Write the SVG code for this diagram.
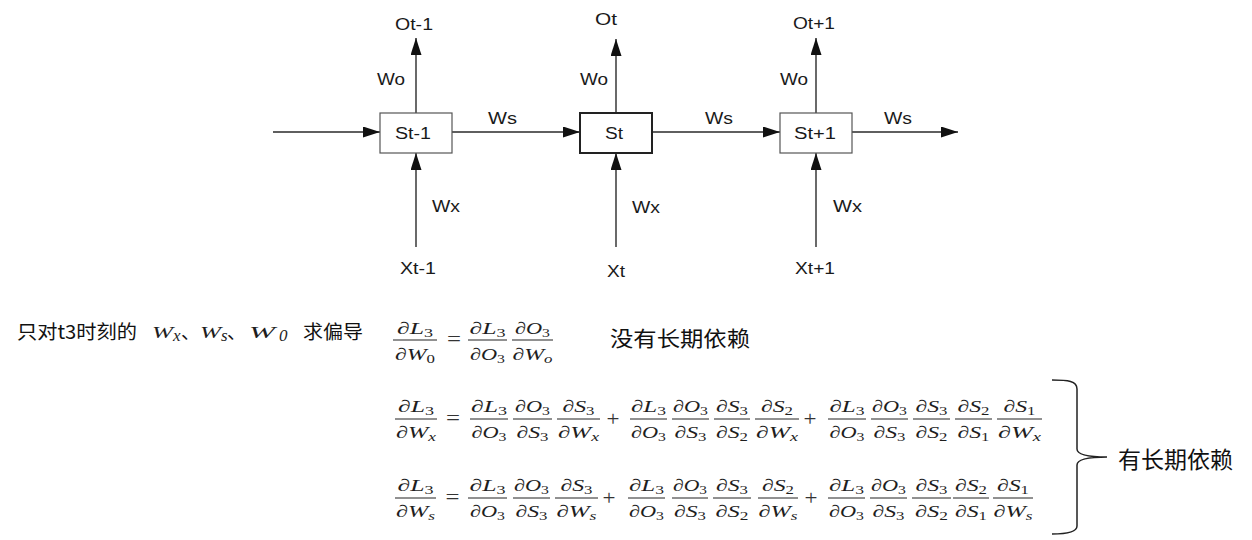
<svg xmlns="http://www.w3.org/2000/svg" width="1252" height="540" viewBox="0 0 1252 540">
<style>
.lbl{font-family:"Liberation Sans",Arial,sans-serif;font-size:16px;fill:#1a1a1a}
.box{fill:#fff;stroke:#555;stroke-width:1.2}
.box2{fill:#fff;stroke:#222;stroke-width:2}
.ln{fill:none;stroke:#2a2a2a;stroke-width:1.4}
.m{font-family:"Liberation Serif","DejaVu Serif",serif;font-style:italic;font-size:17px;fill:#1e1e1e;text-anchor:middle}
.u{font-style:normal}
.sb{font-size:12px}
.op{font-family:"Liberation Serif","DejaVu Serif",serif;font-size:21px;fill:#333;text-anchor:middle}
.bar{stroke:#222;stroke-width:1}
.cn{font-family:"Noto Sans CJK SC","Noto Sans",sans-serif;fill:#111}
.mi{font-family:"Liberation Serif","DejaVu Serif",serif;font-style:italic;font-size:17px;fill:#1e1e1e}
</style>
<defs>
<marker id="ah" viewBox="0 0 17 11" refX="17" refY="5.5" markerWidth="17" markerHeight="11" orient="auto" markerUnits="userSpaceOnUse">
<path d="M0,0 L17,5.5 L0,11 Z" fill="#111"/>
</marker>
</defs>
<rect width="1252" height="540" fill="#fff"/>

<g id="connectors">
<path class="ln" d="M273,132 H380" marker-end="url(#ah)"/>
<path class="ln" d="M452,132 H580" marker-end="url(#ah)"/>
<path class="ln" d="M652,132 H780" marker-end="url(#ah)"/>
<path class="ln" d="M852,132 H958" marker-end="url(#ah)"/>
<path class="ln" d="M416,113 V38" marker-end="url(#ah)"/>
<path class="ln" d="M616,113 V39" marker-end="url(#ah)"/>
<path class="ln" d="M816,113 V38" marker-end="url(#ah)"/>
<path class="ln" d="M416,247 V153" marker-end="url(#ah)"/>
<path class="ln" d="M616,247 V153" marker-end="url(#ah)"/>
<path class="ln" d="M816,247 V153" marker-end="url(#ah)"/>
<text class="lbl" x="377" y="85" textLength="28" lengthAdjust="spacingAndGlyphs">Wo</text>
<text class="lbl" x="580" y="85" textLength="28" lengthAdjust="spacingAndGlyphs">Wo</text>
<text class="lbl" x="780" y="85" textLength="28" lengthAdjust="spacingAndGlyphs">Wo</text>
<text class="lbl" x="488" y="124" textLength="29" lengthAdjust="spacingAndGlyphs">Ws</text>
<text class="lbl" x="705" y="124" textLength="28" lengthAdjust="spacingAndGlyphs">Ws</text>
<text class="lbl" x="884" y="124" textLength="28" lengthAdjust="spacingAndGlyphs">Ws</text>
<text class="lbl" x="432" y="212" textLength="28" lengthAdjust="spacingAndGlyphs">Wx</text>
<text class="lbl" x="632" y="213" textLength="28" lengthAdjust="spacingAndGlyphs">Wx</text>
<text class="lbl" x="833" y="212" textLength="29" lengthAdjust="spacingAndGlyphs">Wx</text>
</g>

<g id="node-st-1">
<rect class="box" x="380" y="113" width="72" height="40"/>
<text class="lbl" x="395" y="139" textLength="36" lengthAdjust="spacingAndGlyphs">St-1</text>
</g>
<g id="node-st">
<rect class="box2" x="580" y="113" width="72" height="40"/>
<text class="lbl" x="605" y="139" textLength="18" lengthAdjust="spacingAndGlyphs">St</text>
</g>
<g id="node-st+1">
<rect class="box" x="780" y="113" width="72" height="40"/>
<text class="lbl" x="794" y="139" textLength="42" lengthAdjust="spacingAndGlyphs">St+1</text>
</g>
<g id="node-ot-1"><text class="lbl" x="395" y="30" textLength="38" lengthAdjust="spacingAndGlyphs">Ot-1</text></g>
<g id="node-ot"><text class="lbl" x="595" y="25" textLength="22" lengthAdjust="spacingAndGlyphs">Ot</text></g>
<g id="node-ot+1"><text class="lbl" x="793" y="29" textLength="42" lengthAdjust="spacingAndGlyphs">Ot+1</text></g>
<g id="node-xt-1"><text class="lbl" x="400" y="274" textLength="36" lengthAdjust="spacingAndGlyphs">Xt-1</text></g>
<g id="node-xt"><text class="lbl" x="607" y="277" textLength="18" lengthAdjust="spacingAndGlyphs">Xt</text></g>
<g id="node-xt+1"><text class="lbl" x="795" y="274" textLength="40" lengthAdjust="spacingAndGlyphs">Xt+1</text></g>

<g id="caption">
<text class="cn" x="17" y="339" font-size="19" textLength="120" lengthAdjust="spacingAndGlyphs">只对t3时刻的</text>
<text class="mi" x="152" y="338" textLength="21" lengthAdjust="spacingAndGlyphs">W</text>
<text class="mi sb" x="173" y="341">x</text>
<text class="cn" x="181" y="339" font-size="19">、</text>
<text class="mi" x="200" y="338" textLength="21" lengthAdjust="spacingAndGlyphs">W</text>
<text class="mi sb" x="221" y="341">s</text>
<text class="cn" x="227" y="339" font-size="19">、</text>
<text class="mi" x="249" y="338" textLength="26" lengthAdjust="spacingAndGlyphs">W</text>
<text class="mi sb u" x="279" y="341">0</text>
<text class="cn" x="303" y="339" font-size="19" textLength="60" lengthAdjust="spacingAndGlyphs">求偏导</text>
</g>

<g id="eq1">
<text class="m" x="415" y="334" textLength="36" lengthAdjust="spacingAndGlyphs">∂L<tspan class="sb u" dy="3">3</tspan></text>
<line class="bar" x1="393" x2="437" y1="340" y2="340"/>
<text class="m" x="415" y="360" textLength="40" lengthAdjust="spacingAndGlyphs">∂W<tspan class="sb u" dy="3">0</tspan></text>
<text class="op" x="454" y="346" textLength="14" lengthAdjust="spacingAndGlyphs">=</text>
<text class="m" x="487.5" y="334" textLength="36" lengthAdjust="spacingAndGlyphs">∂L<tspan class="sb u" dy="3">3</tspan></text>
<line class="bar" x1="468" x2="507" y1="340" y2="340"/>
<text class="m" x="487.5" y="360" textLength="35" lengthAdjust="spacingAndGlyphs">∂O<tspan class="sb u" dy="3">3</tspan></text>
<text class="m" x="532.5" y="334" textLength="35" lengthAdjust="spacingAndGlyphs">∂O<tspan class="sb u" dy="3">3</tspan></text>
<line class="bar" x1="512" x2="553" y1="340" y2="340"/>
<text class="m" x="532.5" y="360" textLength="40" lengthAdjust="spacingAndGlyphs">∂W<tspan class="sb" dy="3">o</tspan></text>
<text class="cn" x="610" y="346" font-size="21" textLength="140" lengthAdjust="spacingAndGlyphs">没有长期依赖</text>
</g>

<g id="eq2">
<text class="m" x="416" y="412" textLength="36" lengthAdjust="spacingAndGlyphs">∂L<tspan class="sb u" dy="3">3</tspan></text>
<line class="bar" x1="395" x2="437" y1="419" y2="419"/>
<text class="m" x="416" y="438" textLength="40" lengthAdjust="spacingAndGlyphs">∂W<tspan class="sb" dy="3">x</tspan></text>
<text class="op" x="453" y="425" textLength="14" lengthAdjust="spacingAndGlyphs">=</text>
<text class="m" x="489" y="412" textLength="36" lengthAdjust="spacingAndGlyphs">∂L<tspan class="sb u" dy="3">3</tspan></text>
<line class="bar" x1="470" x2="508" y1="419" y2="419"/>
<text class="m" x="489" y="438" textLength="35" lengthAdjust="spacingAndGlyphs">∂O<tspan class="sb u" dy="3">3</tspan></text>
<text class="m" x="532.5" y="412" textLength="35" lengthAdjust="spacingAndGlyphs">∂O<tspan class="sb u" dy="3">3</tspan></text>
<line class="bar" x1="513" x2="552" y1="419" y2="419"/>
<text class="m" x="532.5" y="438" textLength="32" lengthAdjust="spacingAndGlyphs">∂S<tspan class="sb u" dy="3">3</tspan></text>
<text class="m" x="578.5" y="412" textLength="32" lengthAdjust="spacingAndGlyphs">∂S<tspan class="sb u" dy="3">3</tspan></text>
<line class="bar" x1="557" x2="600" y1="419" y2="419"/>
<text class="m" x="578.5" y="438" textLength="41" lengthAdjust="spacingAndGlyphs">∂W<tspan class="sb" dy="3">x</tspan></text>
<text class="op" x="613" y="426" textLength="13" lengthAdjust="spacingAndGlyphs">+</text>
<text class="m" x="648.5" y="412" textLength="35" lengthAdjust="spacingAndGlyphs">∂L<tspan class="sb u" dy="3">3</tspan></text>
<line class="bar" x1="630" x2="667" y1="419" y2="419"/>
<text class="m" x="648.5" y="438" textLength="35" lengthAdjust="spacingAndGlyphs">∂O<tspan class="sb u" dy="3">3</tspan></text>
<text class="m" x="690.5" y="412" textLength="35" lengthAdjust="spacingAndGlyphs">∂O<tspan class="sb u" dy="3">3</tspan></text>
<line class="bar" x1="672" x2="709" y1="419" y2="419"/>
<text class="m" x="690.5" y="438" textLength="32" lengthAdjust="spacingAndGlyphs">∂S<tspan class="sb u" dy="3">3</tspan></text>
<text class="m" x="732" y="412" textLength="32" lengthAdjust="spacingAndGlyphs">∂S<tspan class="sb u" dy="3">3</tspan></text>
<line class="bar" x1="714" x2="750" y1="419" y2="419"/>
<text class="m" x="732" y="438" textLength="32" lengthAdjust="spacingAndGlyphs">∂S<tspan class="sb u" dy="3">2</tspan></text>
<text class="m" x="777" y="412" textLength="32" lengthAdjust="spacingAndGlyphs">∂S<tspan class="sb u" dy="3">2</tspan></text>
<line class="bar" x1="755" x2="799" y1="419" y2="419"/>
<text class="m" x="777" y="438" textLength="42" lengthAdjust="spacingAndGlyphs">∂W<tspan class="sb" dy="3">x</tspan></text>
<text class="op" x="810" y="426" textLength="13" lengthAdjust="spacingAndGlyphs">+</text>
<text class="m" x="847" y="412" textLength="35" lengthAdjust="spacingAndGlyphs">∂L<tspan class="sb u" dy="3">3</tspan></text>
<line class="bar" x1="828" x2="866" y1="419" y2="419"/>
<text class="m" x="847" y="438" textLength="35" lengthAdjust="spacingAndGlyphs">∂O<tspan class="sb u" dy="3">3</tspan></text>
<text class="m" x="889.5" y="412" textLength="35" lengthAdjust="spacingAndGlyphs">∂O<tspan class="sb u" dy="3">3</tspan></text>
<line class="bar" x1="871" x2="908" y1="419" y2="419"/>
<text class="m" x="889.5" y="438" textLength="32" lengthAdjust="spacingAndGlyphs">∂S<tspan class="sb u" dy="3">3</tspan></text>
<text class="m" x="931.5" y="412" textLength="32" lengthAdjust="spacingAndGlyphs">∂S<tspan class="sb u" dy="3">3</tspan></text>
<line class="bar" x1="913" x2="950" y1="419" y2="419"/>
<text class="m" x="931.5" y="438" textLength="32" lengthAdjust="spacingAndGlyphs">∂S<tspan class="sb u" dy="3">2</tspan></text>
<text class="m" x="973.5" y="412" textLength="32" lengthAdjust="spacingAndGlyphs">∂S<tspan class="sb u" dy="3">2</tspan></text>
<line class="bar" x1="955" x2="992" y1="419" y2="419"/>
<text class="m" x="973.5" y="438" textLength="32" lengthAdjust="spacingAndGlyphs">∂S<tspan class="sb u" dy="3">1</tspan></text>
<text class="m" x="1019.5" y="412" textLength="32" lengthAdjust="spacingAndGlyphs">∂S<tspan class="sb u" dy="3">1</tspan></text>
<line class="bar" x1="997" x2="1042" y1="419" y2="419"/>
<text class="m" x="1019.5" y="438" textLength="43" lengthAdjust="spacingAndGlyphs">∂W<tspan class="sb" dy="3">x</tspan></text>
</g>

<g id="eq3">
<text class="m" x="415.5" y="491" textLength="36" lengthAdjust="spacingAndGlyphs">∂L<tspan class="sb u" dy="3">3</tspan></text>
<line class="bar" x1="395" x2="436" y1="498" y2="498"/>
<text class="m" x="415.5" y="517" textLength="39" lengthAdjust="spacingAndGlyphs">∂W<tspan class="sb" dy="3">s</tspan></text>
<text class="op" x="452.5" y="504" textLength="14" lengthAdjust="spacingAndGlyphs">=</text>
<text class="m" x="487.5" y="491" textLength="36" lengthAdjust="spacingAndGlyphs">∂L<tspan class="sb u" dy="3">3</tspan></text>
<line class="bar" x1="468" x2="507" y1="498" y2="498"/>
<text class="m" x="487.5" y="517" textLength="35" lengthAdjust="spacingAndGlyphs">∂O<tspan class="sb u" dy="3">3</tspan></text>
<text class="m" x="531.5" y="491" textLength="35" lengthAdjust="spacingAndGlyphs">∂O<tspan class="sb u" dy="3">3</tspan></text>
<line class="bar" x1="513" x2="550" y1="498" y2="498"/>
<text class="m" x="531.5" y="517" textLength="32" lengthAdjust="spacingAndGlyphs">∂S<tspan class="sb u" dy="3">3</tspan></text>
<text class="m" x="576.5" y="491" textLength="32" lengthAdjust="spacingAndGlyphs">∂S<tspan class="sb u" dy="3">3</tspan></text>
<line class="bar" x1="555" x2="598" y1="498" y2="498"/>
<text class="m" x="576.5" y="517" textLength="40" lengthAdjust="spacingAndGlyphs">∂W<tspan class="sb" dy="3">s</tspan></text>
<text class="op" x="609" y="505" textLength="13" lengthAdjust="spacingAndGlyphs">+</text>
<text class="m" x="646.5" y="491" textLength="35" lengthAdjust="spacingAndGlyphs">∂L<tspan class="sb u" dy="3">3</tspan></text>
<line class="bar" x1="628" x2="665" y1="498" y2="498"/>
<text class="m" x="646.5" y="517" textLength="35" lengthAdjust="spacingAndGlyphs">∂O<tspan class="sb u" dy="3">3</tspan></text>
<text class="m" x="690" y="491" textLength="34" lengthAdjust="spacingAndGlyphs">∂O<tspan class="sb u" dy="3">3</tspan></text>
<line class="bar" x1="672" x2="708" y1="498" y2="498"/>
<text class="m" x="690" y="517" textLength="32" lengthAdjust="spacingAndGlyphs">∂S<tspan class="sb u" dy="3">3</tspan></text>
<text class="m" x="732" y="491" textLength="32" lengthAdjust="spacingAndGlyphs">∂S<tspan class="sb u" dy="3">3</tspan></text>
<line class="bar" x1="713" x2="751" y1="498" y2="498"/>
<text class="m" x="732" y="517" textLength="33" lengthAdjust="spacingAndGlyphs">∂S<tspan class="sb u" dy="3">2</tspan></text>
<text class="m" x="778" y="491" textLength="32" lengthAdjust="spacingAndGlyphs">∂S<tspan class="sb u" dy="3">2</tspan></text>
<line class="bar" x1="758" x2="798" y1="498" y2="498"/>
<text class="m" x="778" y="517" textLength="39" lengthAdjust="spacingAndGlyphs">∂W<tspan class="sb" dy="3">s</tspan></text>
<text class="op" x="811" y="505" textLength="13" lengthAdjust="spacingAndGlyphs">+</text>
<text class="m" x="846.5" y="491" textLength="35" lengthAdjust="spacingAndGlyphs">∂L<tspan class="sb u" dy="3">3</tspan></text>
<line class="bar" x1="828" x2="865" y1="498" y2="498"/>
<text class="m" x="846.5" y="517" textLength="35" lengthAdjust="spacingAndGlyphs">∂O<tspan class="sb u" dy="3">3</tspan></text>
<text class="m" x="888.5" y="491" textLength="35" lengthAdjust="spacingAndGlyphs">∂O<tspan class="sb u" dy="3">3</tspan></text>
<line class="bar" x1="870" x2="907" y1="498" y2="498"/>
<text class="m" x="888.5" y="517" textLength="32" lengthAdjust="spacingAndGlyphs">∂S<tspan class="sb u" dy="3">3</tspan></text>
<text class="m" x="931.5" y="491" textLength="32" lengthAdjust="spacingAndGlyphs">∂S<tspan class="sb u" dy="3">3</tspan></text>
<line class="bar" x1="912" x2="951" y1="498" y2="498"/>
<text class="m" x="931.5" y="517" textLength="33" lengthAdjust="spacingAndGlyphs">∂S<tspan class="sb u" dy="3">2</tspan></text>
<text class="m" x="971" y="491" textLength="32" lengthAdjust="spacingAndGlyphs">∂S<tspan class="sb u" dy="3">2</tspan></text>
<line class="bar" x1="953" x2="989" y1="498" y2="498"/>
<text class="m" x="971" y="517" textLength="32" lengthAdjust="spacingAndGlyphs">∂S<tspan class="sb u" dy="3">1</tspan></text>
<text class="m" x="1013" y="491" textLength="32" lengthAdjust="spacingAndGlyphs">∂S<tspan class="sb u" dy="3">1</tspan></text>
<line class="bar" x1="993" x2="1033" y1="498" y2="498"/>
<text class="m" x="1013" y="517" textLength="39" lengthAdjust="spacingAndGlyphs">∂W<tspan class="sb" dy="3">s</tspan></text>
</g>

<g id="brace">
<path d="M1052,380 C1068,380 1077,381 1077,389 L1077,449 C1077,455 1088,457 1107,457 C1088,457 1077,459 1077,465 L1077,526 C1077,532 1068,534 1052,534" fill="none" stroke="#222" stroke-width="1.5"/>
<text class="cn" x="1118" y="468" font-size="23" textLength="115" lengthAdjust="spacingAndGlyphs">有长期依赖</text>
</g>
</svg>
